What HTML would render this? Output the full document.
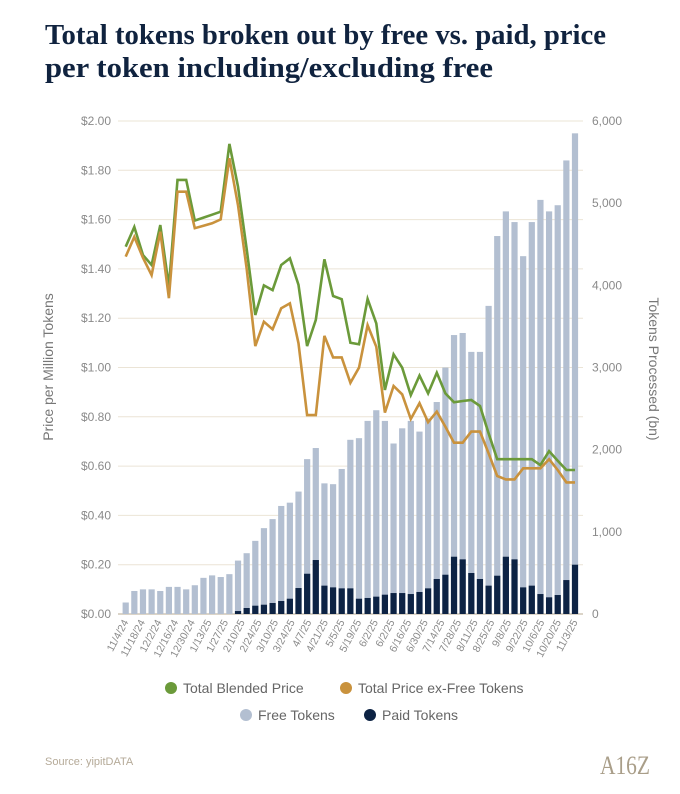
<!DOCTYPE html>
<html><head><meta charset="utf-8"><style>
body{margin:0;background:#fff;width:680px;height:794px;overflow:hidden}
svg{display:block}
text{font-family:"Liberation Sans",sans-serif}
</style></head><body>
<svg id="chart" width="680" height="794" xmlns="http://www.w3.org/2000/svg">
<text x="45" y="44" font-weight="bold" font-size="28" fill="#10233f" textLength="561" lengthAdjust="spacingAndGlyphs" style="font-family:'Liberation Serif',serif">Total tokens broken out by free vs. paid, price</text>
<text x="45" y="77" font-weight="bold" font-size="28" fill="#10233f" textLength="448" lengthAdjust="spacingAndGlyphs" style="font-family:'Liberation Serif',serif">per token including/excluding free</text>
<g id="grid"></g><g id="bars"></g><g id="lines"></g><g id="axes"></g>
<text transform="translate(53,367) rotate(-90)" text-anchor="middle" font-size="14" fill="#777">Price per Million Tokens</text>
<text transform="translate(649,369) rotate(90)" text-anchor="middle" font-size="14" fill="#777">Tokens Processed (bn)</text>
<g font-size="14" fill="#666">
<circle cx="171" cy="688" r="6" fill="#6b9a3a"/>
<text x="183" y="693">Total Blended Price</text>
<circle cx="346" cy="688" r="6" fill="#c9923d"/>
<text x="358" y="693">Total Price ex-Free Tokens</text>
<circle cx="246" cy="715" r="6" fill="#b3bfd1"/>
<text x="258" y="720">Free Tokens</text>
<circle cx="370" cy="715" r="6" fill="#0d2344"/>
<text x="382" y="720">Paid Tokens</text>
</g>
<text x="45" y="765" font-size="11" fill="#b5aa98">Source: yipitDATA</text>
<text x="600" y="774" font-size="26" fill="#a99e89" textLength="50" lengthAdjust="spacingAndGlyphs" style="font-family:'Liberation Serif',serif">A16Z</text>
</svg>
<script>
const labels=["11/4/24","11/18/24","12/2/24","12/16/24","12/30/24","1/13/25","1/27/25","2/10/25","2/24/25","3/10/25","3/24/25","4/7/25","4/21/25","5/5/25","5/19/25","6/2/25","6/2/25","6/16/25","6/30/25","7/14/25","7/28/25","8/11/25","8/25/25","9/8/25","9/22/25","10/6/25","10/20/25","11/3/25"];
const totalTokens=[140,280,300,300,280,330,330,300,350,440,470,450,485,650,740,890,1045,1155,1315,1355,1490,1885,2020,1590,1580,1765,2120,2140,2350,2480,2350,2075,2260,2350,2220,2380,2580,3000,3395,3420,3190,3190,3750,4600,4900,4770,4355,4770,5040,4900,4975,5520,5850];
const paidTokens=[0,0,0,0,0,0,0,0,0,0,0,0,0,36,73,101,113,134,158,186,316,490,657,345,324,312,312,186,195,211,235,255,255,243,268,312,426,478,697,665,499,426,345,466,697,665,324,345,243,203,231,413,600];
const blended=[1.49,1.57,1.456,1.416,1.578,1.328,1.761,1.761,1.596,1.608,1.62,1.632,1.907,1.734,1.48,1.213,1.333,1.314,1.416,1.443,1.335,1.087,1.193,1.439,1.29,1.277,1.10,1.094,1.278,1.179,0.909,1.053,0.999,0.888,0.967,0.895,0.979,0.895,0.859,0.864,0.868,0.844,0.733,0.628,0.628,0.628,0.628,0.628,0.604,0.661,0.622,0.584,0.584];
const exFree=[1.45,1.53,1.445,1.375,1.551,1.281,1.713,1.713,1.565,1.575,1.585,1.601,1.849,1.659,1.40,1.087,1.186,1.155,1.24,1.26,1.098,0.807,0.807,1.128,1.041,1.041,0.938,0.999,1.172,1.084,0.817,0.925,0.891,0.791,0.855,0.778,0.821,0.76,0.695,0.695,0.74,0.74,0.652,0.56,0.546,0.546,0.591,0.591,0.591,0.628,0.584,0.534,0.534];
const priceTicks=["$0.00","$0.20","$0.40","$0.60","$0.80","$1.00","$1.20","$1.40","$1.60","$1.80","$2.00"];
const tokenTicks=["0","1,000","2,000","3,000","4,000","5,000","6,000"];

const NS="http://www.w3.org/2000/svg";
const N=totalTokens.length;
const X0=125.7,X1=575;
const Y0=614,YT=121;
function x(i){return X0+(X1-X0)*i/(N-1);}
function yP(v){return Y0-(Y0-YT)*v/2;}
function yT(v){return Y0-(Y0-YT)*v/6000;}
function mk(tag,attrs,parent){const e=document.createElementNS(NS,tag);for(const k in attrs)e.setAttribute(k,attrs[k]);parent.appendChild(e);return e;}
const grid=document.getElementById('grid'),bars=document.getElementById('bars'),lines=document.getElementById('lines'),axes=document.getElementById('axes');
priceTicks.forEach((t,i)=>{
  const y=yP(i*0.2);
  const l=mk('line',{x1:118,x2:583,y1:y,y2:y,stroke:i==0?'#cfc6b6':'#ebe4d6','stroke-width':i==0?1.5:1},grid);
  
  
  const tx=mk('text',{x:111,y:y+4,'text-anchor':'end','font-size':12,fill:'#8a8a8a'},axes);
  tx.textContent=t;
  
  
});
tokenTicks.forEach((t,i)=>{
  const y=yT(i*1000);
  const tx=mk('text',{x:592,y:y+4,'font-size':12,fill:'#8a8a8a'},axes);
  tx.textContent=t;
  
  
});
totalTokens.forEach((v,i)=>{
  const w=6.2,cx=x(i);
  const b=mk('rect',{x:cx-w/2,y:yT(v),width:w,height:Y0-yT(v),fill:'#b3bfd1'},bars);
  
  
  const p=paidTokens[i];
  if(p>0){
    const pb=mk('rect',{x:cx-w/2,y:yT(p),width:w,height:Y0-yT(p),fill:'#0d2344'},bars);
    
    
  }
});
function line(arr,color,name){
  const d=arr.map((v,i)=>(i?'L':'M')+x(i).toFixed(1)+','+yP(v).toFixed(1)).join('');
  const p=mk('path',{d:d,fill:'none',stroke:color,'stroke-width':2.6,'stroke-linejoin':'miter'},lines);
  
  
}
line(blended,'#6b9a3a','line-total-blended-price');
line(exFree,'#c9923d','line-price-ex-free');
const L=labels.length;
labels.forEach((t,k)=>{
  const lx=X0+(X1-X0)*k/(L-1);
  const tx=mk('text',{transform:`translate(${lx+3},${Y0+8}) rotate(-62)`,'text-anchor':'end','font-size':10.5,fill:'#8a8a8a'},axes);
  tx.textContent=t;
  
  
});
</script>
</body></html>
